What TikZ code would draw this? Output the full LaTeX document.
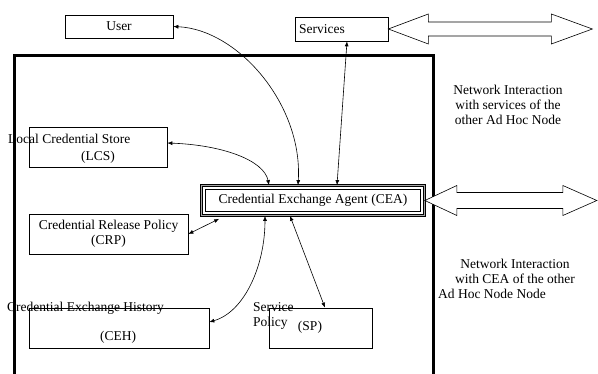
\documentclass[tikz,border=0pt]{standalone}
\usepackage{fontspec}
\setmainfont{Liberation Serif}
\usetikzlibrary{arrows.meta}

\begin{document}
\begin{tikzpicture}[
  x=1pt, y=-1pt,
  font=\fontsize{13.5}{15}\selectfont,
  box/.style={
    rectangle, draw=black, line width=0.7pt, fill=white,
    align=center, inner sep=0pt
  },
  agentbox/.style={
    rectangle, draw=black, line width=0.7pt, double=gray!70,
    double distance=1.6pt, fill=white, inner sep=0pt,
    minimum width=223, minimum height=30
  },
  lbl/.style={inner sep=0pt, align=center},
  frame/.style={draw=black, line width=3pt},
  link/.style={{Latex[length=5pt,width=4pt]}-{Latex[length=5pt,width=4pt]}, black, line width=0.6pt},
  netarrow/.style={draw=black, line width=0.6pt, fill=white},
]
\clip (0,0) rectangle (598,374);

% Ad hoc node frame
\draw[frame] (14.7,56) rectangle (433.5,400);

% Boxes
\node[box, minimum width=108, minimum height=23] (user) at (119,26.5) {User};
\node[box, minimum width=93, minimum height=24] (svc) at (341.5,29) {};
\node[box, minimum width=138, minimum height=40] (lcs) at (98,147) {};
\node[agentbox] (cea) at (313,200.5) {Credential Exchange Agent (CEA)};
\draw[line width=0.7pt] ([shift={(4.5pt,-4.5pt)}]cea.north west) rectangle ([shift={(-4.5pt,4.5pt)}]cea.south east);
\node[box, minimum width=159, minimum height=40] (crp) at (108.5,234) {Credential Release Policy\\(CRP)};
\node[box, minimum width=180, minimum height=40] (ceh) at (119,328) {};
\node[box, minimum width=103, minimum height=40] (sp) at (320.5,328) {};

% Labels
\node[lbl, anchor=west] (svcname) at (299,29) {Services};
\node[lbl, anchor=west] (lcsname) at (8,139) {Local Credential Store};
\node[lbl] (lcsabbr) at (98,157) {(LCS)};
\node[lbl, anchor=west] (cehname) at (7,308) {Credential Exchange History};
\node[lbl] (cehabbr) at (118,337) {(CEH)};
\node[lbl, anchor=west, align=left] (spname) at (253,315.5) {Service\\Policy};
\node[lbl] (spabbr) at (310,327) {(SP)};
\node[lbl] (netsvc) at (508,105) {Network Interaction\\with services of the\\other Ad Hoc Node};
\node[lbl] (netcea) at (515,271.5) {Network Interaction\\with CEA of the other};
\node[lbl, anchor=west] (netcea2) at (438,294) {Ad Hoc Node Node};

% Network interaction arrows
\draw[netarrow] (svc.east) -- ++(40,-15) -- ++(0,8) -- ++(123,0) -- ++(0,-8)
  -- ++(41,15) -- ++(-41,15) -- ++(0,-8) -- ++(-123,0) -- ++(0,8) -- cycle;
\draw[netarrow] (cea.east) -- ++(32,-15) -- ++(0,7) -- ++(106,0) -- ++(0,-7)
  -- ++(34,15) -- ++(-34,15) -- ++(0,-7) -- ++(-106,0) -- ++(0,7) -- cycle;

% Links to the agent
\draw[link] (user.east) .. controls +(65,3) and +(5,-80) .. ([xshift=-15pt]cea.north);
\draw[link] ([xshift=5.5pt]svc.south) -- ([xshift=24pt]cea.north);
\draw[link] ([yshift=4pt]lcs.east) .. controls +(55,2) and +(-5,-25) .. ([xshift=-44pt]cea.north);
\draw[link] (crp.east) -- ([xshift=18pt,yshift=-3pt]cea.south west);
\draw[link] ([yshift=6pt]ceh.east) .. controls +(35,-10) and +(0,50) .. ([xshift=-48pt]cea.south);
\draw[link] ([xshift=4.5pt]sp.north) -- ([xshift=-23pt]cea.south);

\end{tikzpicture}
\end{document}
